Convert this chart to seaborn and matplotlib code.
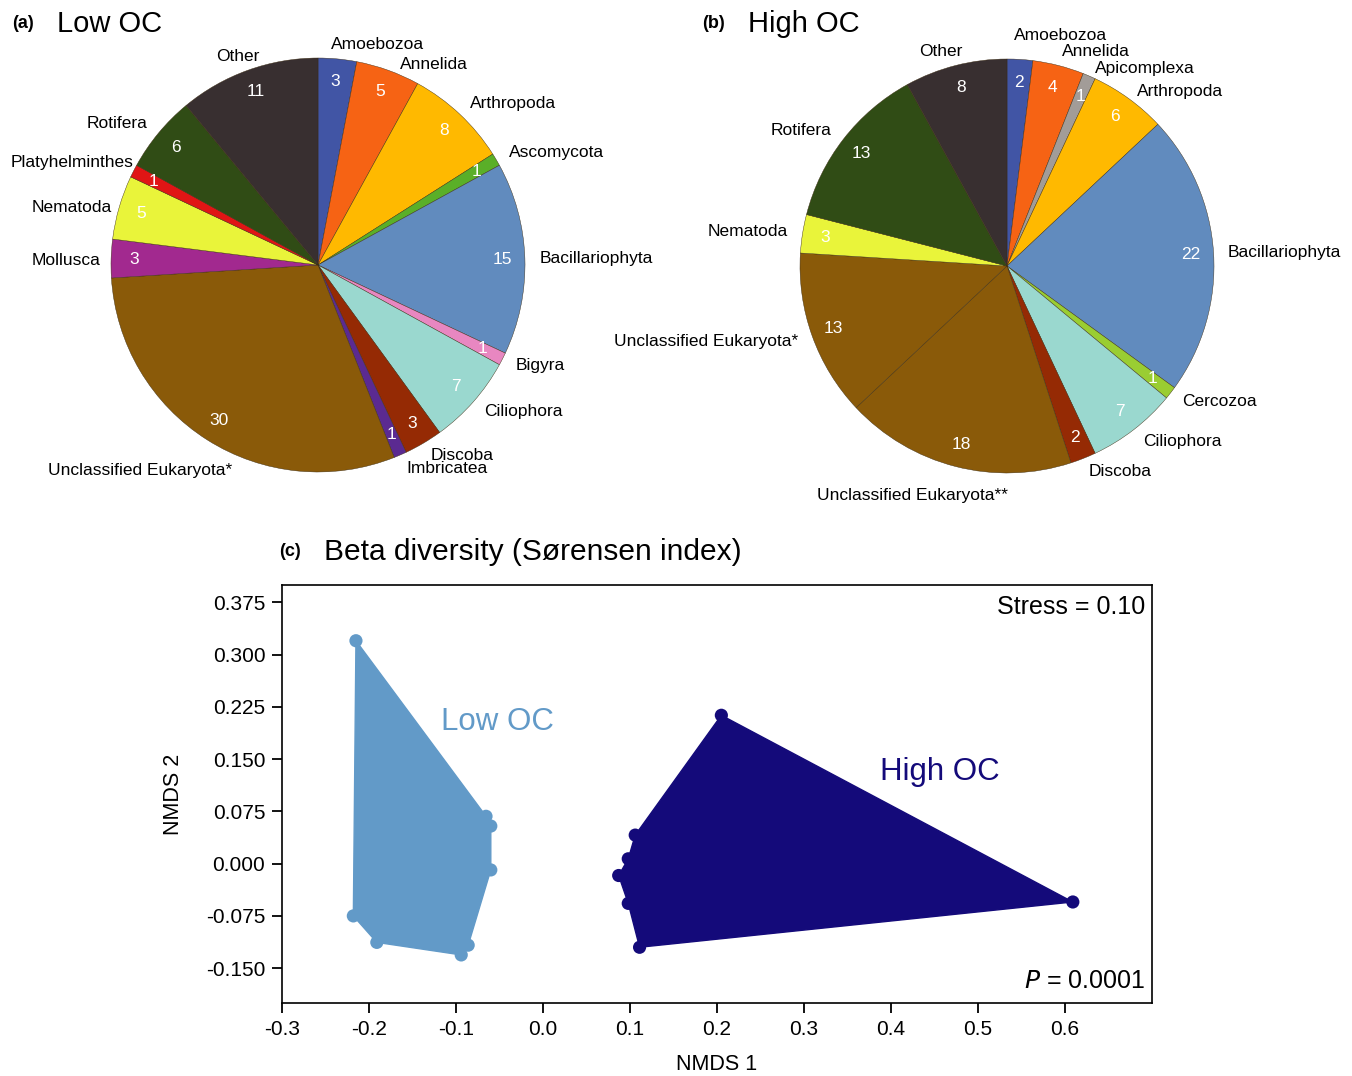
import numpy as np
import pandas as pd
import matplotlib
matplotlib.use('Agg')
import matplotlib.pyplot as plt
import seaborn as sns

# ---- pie data (a) Low OC, clockwise from 12 o'clock
lowLabels = ['Amoebozoa', 'Annelida', 'Arthropoda', 'Ascomycota', 'Bacillariophyta',
             'Bigyra', 'Ciliophora', 'Discoba', 'Imbricatea', 'Unclassified Eukaryota*',
             'Mollusca', 'Nematoda', 'Platyhelminthes', 'Rotifera', 'Other']
lowValues = [3, 5, 8, 1, 15, 1, 7, 3, 1, 30, 3, 5, 1, 6, 11]

# ---- pie data (b) High OC
highLabels = ['Amoebozoa', 'Annelida', 'Apicomplexa', 'Arthropoda', 'Bacillariophyta',
              'Cercozoa', 'Ciliophora', 'Discoba', 'Unclassified Eukaryota**',
              'Unclassified Eukaryota*', 'Nematoda', 'Rotifera', 'Other']
highValues = [2, 4, 1, 6, 22, 1, 7, 2, 18, 13, 3, 13, 8]

taxonColors = {
    'Amoebozoa': '#4155a5', 'Annelida': '#f66314', 'Apicomplexa': '#a29c98',
    'Arthropoda': '#ffb900', 'Ascomycota': '#5aaf28', 'Bacillariophyta': '#618bbe',
    'Bigyra': '#e887c1', 'Cercozoa': '#9acd32', 'Ciliophora': '#9ad8cf',
    'Discoba': '#952a04', 'Imbricatea': '#5b2a91', 'Unclassified Eukaryota*': '#8a5a09',
    'Unclassified Eukaryota**': '#8a5a09', 'Mollusca': '#a2298f', 'Nematoda': '#e9f43a',
    'Platyhelminthes': '#e01515', 'Rotifera': '#304c15', 'Other': '#382f30',
}

# ---- NMDS data (c)
lowX = [-0.215, -0.0655, -0.060, -0.060, -0.094, -0.086, -0.191, -0.218]
lowY = [0.320, 0.068, 0.054, -0.009, -0.131, -0.117, -0.113, -0.075]
highX = [0.205, 0.609, 0.111, 0.098, 0.087, 0.098, 0.106]
highY = [0.213, -0.055, -0.120, -0.057, -0.017, 0.007, 0.041]
groupColors = {'Low OC': '#629ac8', 'High OC': '#140a7a'}

xTicks = [-0.3, -0.2, -0.1, 0.0, 0.1, 0.2, 0.3, 0.4, 0.5, 0.6]
yTicks = [-0.150, -0.075, 0.000, 0.075, 0.150, 0.225, 0.300, 0.375]

sns.set_style('ticks')
plt.rcParams['font.family'] = ['Liberation Sans', 'DejaVu Sans']
plt.rcParams['axes.unicode_minus'] = False
plt.rcParams['text.color'] = 'black'
plt.rcParams['axes.labelcolor'] = 'black'
plt.rcParams['xtick.color'] = 'black'
plt.rcParams['ytick.color'] = 'black'

W, H = 1352, 1076
fig = plt.figure(figsize=(W / 100, H / 100), dpi=100)


def axBox(cx, cy, r):
    return [(cx - r) / W, 1 - (cy + r) / H, 2 * r / W, 2 * r / H]


# label nudges (in radius units) for crowded labels
nudge = {
    ('low', 'Amoebozoa'): (-0.04, 0.0),
    ('low', 'Annelida'): (0.035, -0.04),
    ('low', 'Other'): (0.08, 0.0),
    ('low', 'Platyhelminthes'): (0.06, 0.01),
    ('low', 'Nematoda'): (0.03, -0.02),
    ('low', 'Mollusca'): (0.02, -0.01),
    ('low', 'Unclassified Eukaryota*'): (0.16, -0.09),
    ('high', 'Amoebozoa'): (-0.035, 0.045),
    ('high', 'Apicomplexa'): (0.0, -0.03),
    ('high', 'Arthropoda'): (0.0, -0.025),
    ('high', 'Unclassified Eukaryota**'): (0.27, -0.07),
    ('high', 'Other'): (0.05, 0.0),
}


def drawPie(ax, labels, values, key):
    colors = [taxonColors[l] for l in labels]
    wedges, _ = ax.pie(values, colors=colors, startangle=90, counterclock=False,
                       wedgeprops=dict(linewidth=0.3, edgecolor='#3a2a10'))
    for w, lab, v in zip(wedges, labels, values):
        ang = np.deg2rad((w.theta1 + w.theta2) / 2)
        c, s = np.cos(ang), np.sin(ang)
        ax.text(0.89 * c, 0.89 * s, str(v), ha='center', va='center',
                color='white', fontsize=12.5)
        dx, dy = nudge.get((key, lab), (0, 0))
        ax.text(1.07 * c + dx, 1.07 * s + dy, lab, ha='left' if c > 0 else 'right',
                va='center', fontsize=12.5)
    ax.set_xlim(-1, 1)
    ax.set_ylim(-1, 1)


axA = fig.add_axes(axBox(318, 265, 207))
drawPie(axA, lowLabels, lowValues, 'low')
axB = fig.add_axes(axBox(1007, 266, 207))
drawPie(axB, highLabels, highValues, 'high')

fig.text(12 / W, 1 - 24 / H, '(a)', fontsize=13, fontweight='bold', va='center')
fig.text(57 / W, 1 - 24 / H, 'Low OC', fontsize=21, va='center')
fig.text(702 / W, 1 - 24 / H, '(b)', fontsize=13, fontweight='bold', va='center')
fig.text(748 / W, 1 - 24 / H, 'High OC', fontsize=21, va='center')
fig.text(279 / W, 1 - 552 / H, '(c)', fontsize=13, fontweight='bold', va='center')
fig.text(324 / W, 1 - 552 / H, 'Beta diversity (Sørensen index)', fontsize=21.5, va='center')

# ---- NMDS panel
df = pd.DataFrame({
    'NMDS1': lowX + highX,
    'NMDS2': lowY + highY,
    'group': ['Low OC'] * len(lowX) + ['High OC'] * len(highX),
})
axC = fig.add_axes([282 / W, 1 - 1003 / H, 870 / W, 418 / H])
for g, sub in df.groupby('group'):
    cx, cy = sub['NMDS1'].mean(), sub['NMDS2'].mean()
    order = np.argsort(np.arctan2(sub['NMDS2'] - cy, sub['NMDS1'] - cx))
    axC.fill(sub['NMDS1'].values[order], sub['NMDS2'].values[order],
             color=groupColors[g], linewidth=1, zorder=1)
sns.scatterplot(data=df, x='NMDS1', y='NMDS2', hue='group', palette=groupColors,
                s=90, edgecolor='none', legend=False, ax=axC, zorder=2)
axC.set_xlim(-0.3, 0.7)
axC.set_ylim(-0.2, 0.4)
axC.set_xticks(xTicks)
axC.set_xticklabels([f'{t:.1f}' for t in xTicks])
axC.set_yticks(yTicks)
axC.set_yticklabels([f'{t:.3f}' for t in yTicks])
axC.tick_params(labelsize=15, length=7, width=1.3, pad=5)
for sp in axC.spines.values():
    sp.set_color('black')
    sp.set_linewidth(1.2)
axC.set_xlabel('NMDS 1', fontsize=15.5, labelpad=11)
axC.set_ylabel('NMDS 2', fontsize=15.5, labelpad=16)
axC.text(-0.052, 0.204, 'Low OC', color=groupColors['Low OC'], fontsize=22.5,
         ha='center', va='center')
axC.text(0.456, 0.131, 'High OC', color=groupColors['High OC'], fontsize=22.5,
         ha='center', va='center')
axC.text(0.992, 0.975, 'Stress = 0.10', transform=axC.transAxes, ha='right',
         va='top', fontsize=18)
axC.text(0.992, 0.025, '$\\it{P}$ = 0.0001', transform=axC.transAxes, ha='right',
         va='bottom', fontsize=18)

fig.savefig('out.png', dpi=100)
